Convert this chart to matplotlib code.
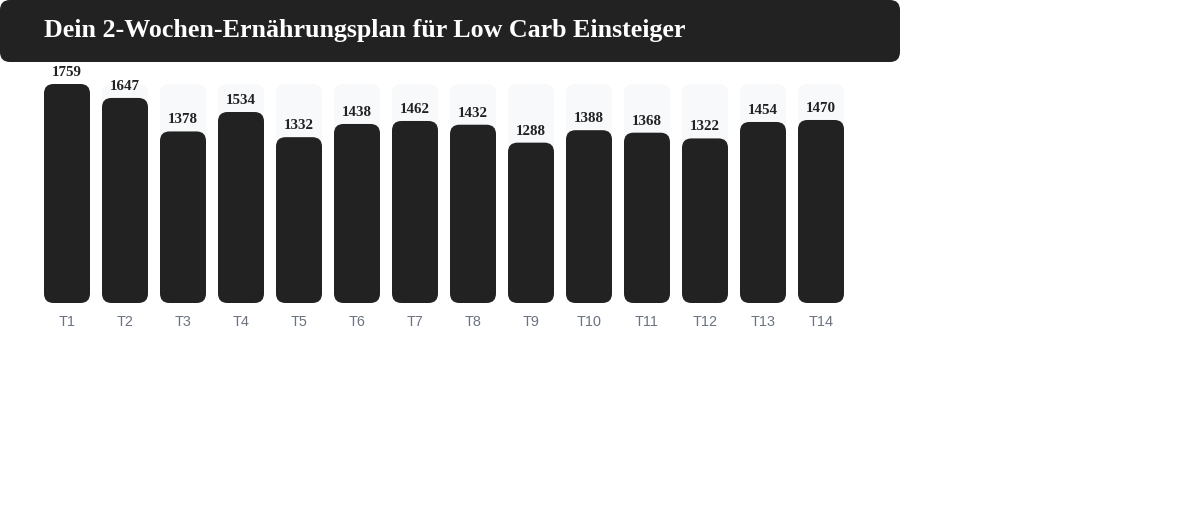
import matplotlib
matplotlib.use("Agg")
import matplotlib.pyplot as plt
from matplotlib.patches import FancyBboxPatch

title = "Dein 2-Wochen-Ernährungsplan für Low Carb Einsteiger"
days = ["T1", "T2", "T3", "T4", "T5", "T6", "T7", "T8", "T9", "T10", "T11", "T12", "T13", "T14"]
kcal = [1759, 1647, 1378, 1534, 1332, 1438, 1462, 1432, 1288, 1388, 1368, 1322, 1454, 1470]

W, H = 1200, 529
DPI = 100
fig = plt.figure(figsize=(W / DPI, H / DPI), dpi=DPI)
fig.patch.set_facecolor("white")

DARK = "#222222"
TRACK = "#f8f9fb"
LABEL = "#6b7280"

# Title banner (figure pixel space)
banner_ax = fig.add_axes([0, 0, 1, 1])
banner_ax.set_xlim(0, W)
banner_ax.set_ylim(H, 0)
banner_ax.axis("off")
banner_ax.add_patch(FancyBboxPatch((0, 0), 900, 62,
                                   boxstyle="round,pad=0,rounding_size=10",
                                   facecolor=DARK, edgecolor="none"))
banner_ax.text(44, 30, title, color="white", fontsize=18.7, fontweight="bold",
               family=["Liberation Serif", "DejaVu Serif"], va="center", ha="left")

# Bars axes: category i centered at 67 + 58*i px; value 0 at y=303, max at y=84
left_px, right_px = 38, 38 + 58 * len(days)
top_px, bottom_px = 84, 303
ax = fig.add_axes([left_px / W, 1 - bottom_px / H, (right_px - left_px) / W, (bottom_px - top_px) / H])
ax.set_xlim(-0.5, len(days) - 0.5)
ymax = max(kcal)
ax.set_ylim(0, ymax)
ax.axis("off")

bw = 46 / 58
px_per_x = 58.0
px_per_y = (bottom_px - top_px) / ymax
r_px = 9.5
rx = r_px / px_per_x
aspect = (1 / px_per_y) / (1 / px_per_x)

for i, (d, v) in enumerate(zip(days, kcal)):
    ax.add_patch(FancyBboxPatch((i - bw / 2, 0), bw, ymax,
                                boxstyle=f"round,pad=0,rounding_size={rx}",
                                mutation_aspect=aspect,
                                facecolor=TRACK, edgecolor="none", clip_on=False))
    ax.add_patch(FancyBboxPatch((i - bw / 2, 0), bw, v,
                                boxstyle=f"round,pad=0,rounding_size={rx}",
                                mutation_aspect=aspect,
                                facecolor=DARK, edgecolor="none", clip_on=False))
    ax.annotate(str(v), (i, v), xytext=(0, 5), textcoords="offset pixels",
                ha="center", va="bottom", fontsize=10.8, fontweight="bold",
                color=DARK, family=["Liberation Serif", "DejaVu Serif"],
                annotation_clip=False)
    ax.annotate(d, (i, 0), xytext=(0, -19), textcoords="offset pixels",
                ha="center", va="center", fontsize=10.4, color=LABEL,
                family=["Liberation Sans", "DejaVu Sans"], annotation_clip=False)

fig.savefig("out.png", dpi=DPI, facecolor="white")
